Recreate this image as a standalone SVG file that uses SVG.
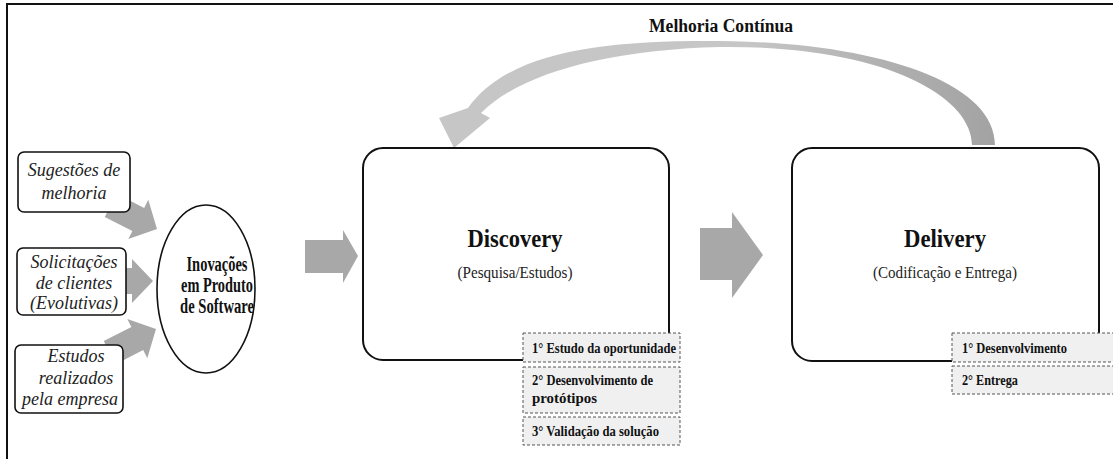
<svg xmlns="http://www.w3.org/2000/svg" width="1113" height="459" viewBox="0 0 1113 459">
<style>
.frame{fill:none;stroke:#111;stroke-width:2}
.src{fill:#fff;stroke:#111;stroke-width:1.6}
text{font-family:"Liberation Serif","Times New Roman",Times,"DejaVu Serif",serif}
.it{font-style:italic;font-size:18px;fill:#222;text-anchor:middle}
.bd{font-weight:bold;fill:#111}
.rg{fill:#222}
.stage{fill:#fff;stroke:#111;stroke-width:2}
.step{fill:#f0f0f0;stroke:#555;stroke-width:1;stroke-dasharray:3 2}
.blk{fill:#a8a8a8}
</style>
<defs>
<path id="arr" d="M-52,-13 L-21,-13 L-21,-22 L0,0 L-21,22 L-21,13 L-52,13 Z"/>
<linearGradient id="cg" x1="440" y1="0" x2="1000" y2="0" gradientUnits="userSpaceOnUse">
<stop offset="0" stop-color="#c6c6c6"/>
<stop offset="0.55" stop-color="#c6c6c6"/>
<stop offset="0.8" stop-color="#b0b0b0"/>
<stop offset="1" stop-color="#a2a2a2"/>
</linearGradient>
</defs>
<rect class="frame" x="7" y="4" width="1120" height="470"/>
<g id="connectors">
<use href="#arr" class="blk" transform="translate(157,229) rotate(27)"/>
<use href="#arr" class="blk" transform="translate(153,281)"/>
<use href="#arr" class="blk" transform="translate(156,329) rotate(-27)"/>
<path class="blk" d="M305,240 L343,240 L343,230 L358,256 L343,283 L343,273 L305,273 Z"/>
<path class="blk" d="M700,228 L732,228 L732,212 L763,255 L732,298 L732,280 L700,280 Z"/>
<path fill="url(#cg)" d="M995,145 C995,80 870,42 720,41 C600,40 508,52 468,108 L439,118 L454,148 L490,118 L481,113 C518,76 600,50 720,47 C880,45 972,95 972,145 Z"/>
<text class="bd" x="721" y="32" font-size="18" text-anchor="middle" textLength="144" lengthAdjust="spacingAndGlyphs">Melhoria Contínua</text>
</g>
<g id="src1">
<rect class="src" x="18" y="152" width="112" height="60" rx="6"/>
<text class="it" x="74" y="176">Sugestões de</text>
<text class="it" x="74" y="199">melhoria</text>
</g>
<g id="src2">
<rect class="src" x="17" y="248" width="109" height="67" rx="6"/>
<text class="it" x="74" y="268">Solicitações</text>
<text class="it" x="74" y="289">de clientes</text>
<text class="it" x="74" y="309">(Evolutivas)</text>
</g>
<g id="src3">
<rect class="src" x="15" y="345" width="108" height="68" rx="6"/>
<text class="it" x="76" y="362">Estudos</text>
<text class="it" x="76" y="384">realizados</text>
<text class="it" x="70" y="405">pela empresa</text>
</g>
<g id="inovacoes">
<ellipse cx="206" cy="289" rx="49" ry="84" fill="#fff" stroke="#111" stroke-width="1.6"/>
<text class="bd" x="217" y="271" font-size="20" text-anchor="middle" textLength="61" lengthAdjust="spacingAndGlyphs">Inovações</text>
<text class="bd" x="217" y="292" font-size="20" text-anchor="middle" textLength="72" lengthAdjust="spacingAndGlyphs">em Produto</text>
<text class="bd" x="217" y="313" font-size="20" text-anchor="middle" textLength="74" lengthAdjust="spacingAndGlyphs">de Software</text>
</g>
<g id="discovery">
<rect class="stage" x="363" y="148" width="306" height="212" rx="20"/>
<text class="bd" x="515" y="247" font-size="25" text-anchor="middle" textLength="95" lengthAdjust="spacingAndGlyphs">Discovery</text>
<text class="rg" x="515" y="278" font-size="17.5" text-anchor="middle" textLength="115" lengthAdjust="spacingAndGlyphs">(Pesquisa/Estudos)</text>
<rect class="step" x="523" y="333" width="157" height="29"/>
<text class="bd" x="532" y="353" font-size="14.5" textLength="144" lengthAdjust="spacingAndGlyphs">1° Estudo da oportunidade</text>
<rect class="step" x="523" y="367" width="157" height="46"/>
<text class="bd" x="532" y="385" font-size="14.5" textLength="121" lengthAdjust="spacingAndGlyphs">2° Desenvolvimento de</text>
<text class="bd" x="532" y="403" font-size="14.5" textLength="65" lengthAdjust="spacingAndGlyphs">protótipos</text>
<rect class="step" x="523" y="417" width="157" height="28"/>
<text class="bd" x="532" y="436" font-size="14.5" textLength="127" lengthAdjust="spacingAndGlyphs">3° Validação da solução</text>
</g>
<g id="delivery">
<rect class="stage" x="792" y="148" width="307" height="213" rx="20"/>
<text class="bd" x="945" y="247" font-size="25" text-anchor="middle" textLength="82" lengthAdjust="spacingAndGlyphs">Delivery</text>
<text class="rg" x="945" y="278" font-size="17.5" text-anchor="middle" textLength="144" lengthAdjust="spacingAndGlyphs">(Codificação e Entrega)</text>
<rect class="step" x="952" y="333" width="170" height="29"/>
<text class="bd" x="962" y="353" font-size="14.5" textLength="105" lengthAdjust="spacingAndGlyphs">1° Desenvolvimento</text>
<rect class="step" x="952" y="366" width="170" height="28"/>
<text class="bd" x="962" y="385" font-size="14.5" textLength="56" lengthAdjust="spacingAndGlyphs">2° Entrega</text>
</g>
</svg>
